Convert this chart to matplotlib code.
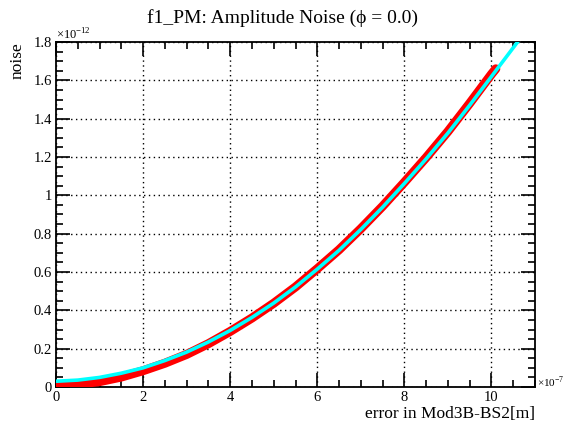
import numpy as np
import matplotlib.pyplot as plt
from matplotlib.ticker import MultipleLocator, FuncFormatter

plt.rcParams["font.family"] = ["Liberation Serif", "DejaVu Serif"]
plt.rcParams["mathtext.fontset"] = "custom"
plt.rcParams["mathtext.rm"] = "Liberation Serif"

# curve values, x in units of 1e-7 m, y in units of 1e-12
x_fit = [0, 0.5, 1, 1.5, 2, 2.5, 3, 3.5, 4, 4.5, 5, 5.5, 6, 6.5, 7, 7.5, 8,
         8.5, 9, 9.5, 10, 10.5, 10.7]
y_fit = [0.030, 0.036, 0.050, 0.072, 0.100, 0.138, 0.182, 0.235, 0.295, 0.363,
         0.438, 0.522, 0.615, 0.713, 0.822, 0.938, 1.062, 1.190, 1.325, 1.470,
         1.620, 1.770, 1.830]

x_data = [0, 0.5, 1, 1.5, 2, 2.5, 3, 3.5, 4, 4.5, 5, 5.5, 6, 6.5, 7, 7.5, 8,
          8.5, 9, 9.5, 10, 10.1]
y_data = [0.010, 0.015, 0.028, 0.052, 0.085, 0.124, 0.170, 0.226, 0.290, 0.360,
          0.437, 0.522, 0.617, 0.716, 0.826, 0.943, 1.068, 1.197, 1.333, 1.480,
          1.632, 1.660]

fig = plt.figure(figsize=(5.65, 4.21), dpi=100)
ax = fig.add_axes([56 / 565, 1 - 387 / 421, (535 - 56) / 565, (387 - 42) / 421])

ax.plot(x_data, y_data, color="red", lw=6.5, solid_capstyle="round", zorder=3)
ax.plot(x_fit, y_fit, color="cyan", lw=2.6, solid_capstyle="butt", zorder=4)

ax.set_xlim(0, 11)
ax.set_ylim(0, 1.8)
ax.xaxis.set_major_locator(MultipleLocator(2))
ax.xaxis.set_minor_locator(MultipleLocator(0.5))
ax.yaxis.set_major_locator(MultipleLocator(0.2))
ax.yaxis.set_minor_locator(MultipleLocator(0.05))
ax.yaxis.set_major_formatter(FuncFormatter(lambda v, p: f"{v:g}"))
ax.tick_params(which="both", direction="in", top=True, right=True,
               labelsize=10.5, width=1.2, pad=3)
ax.tick_params(which="major", length=10)
ax.tick_params(which="minor", length=5)
for s in ax.spines.values():
    s.set_linewidth(1.3)
ax.grid(True, which="major", color="black", linestyle=(0, (1, 2.5)), lw=1)
ax.set_axisbelow(True)

fig.text(0.5, 1 - 18 / 421, "f1_PM: Amplitude Noise (\u03d5 = 0.0)",
         ha="center", va="center", fontsize=14)
ax.set_xlabel("error in Mod3B-BS2[m]", fontsize=12.5, loc="right", labelpad=1)
ax.set_ylabel("noise", fontsize=12.5, loc="top", labelpad=6)
fig.text(56 / 565, 1 - 35 / 421, "×10$^{-12}$", ha="left", va="center", fontsize=9)
fig.text(537 / 565, 1 - 382 / 421, "×10$^{-7}$", ha="left", va="center", fontsize=8)

fig.savefig("out.png", dpi=100)
